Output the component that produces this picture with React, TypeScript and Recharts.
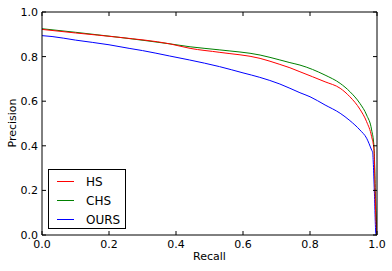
import React from 'react';
import { LineChart, Line, XAxis, YAxis, Legend } from 'recharts';

const oursRecall = [0, 0.03, 0.1, 0.2, 0.26, 0.3, 0.38, 0.44, 0.53, 0.6, 0.65, 0.71, 0.74, 0.77, 0.8, 0.845, 0.89, 0.919, 0.949, 0.969, 0.984, 0.987, 0.992, 0.997, 1.0];
const oursPrecision = [0.894, 0.89, 0.874, 0.853, 0.837, 0.827, 0.803, 0.785, 0.755, 0.727, 0.707, 0.677, 0.658, 0.638, 0.62, 0.583, 0.546, 0.513, 0.471, 0.434, 0.381, 0.37, 0.2, 0.0, 0.0];

const chsRecall = [0, 0.1, 0.233, 0.382, 0.442, 0.531, 0.651, 0.71, 0.74, 0.77, 0.845, 0.89, 0.919, 0.949, 0.969, 0.984, 0.991, 0.996, 1.0];
const chsPrecision = [0.925, 0.909, 0.886, 0.857, 0.844, 0.83, 0.807, 0.785, 0.773, 0.762, 0.717, 0.68, 0.643, 0.59, 0.538, 0.471, 0.396, 0.15, 0.0];

const hsRecall = [0, 0.1, 0.233, 0.382, 0.442, 0.531, 0.651, 0.71, 0.74, 0.77, 0.845, 0.89, 0.919, 0.949, 0.969, 0.984, 0.991, 0.996, 1.0];
const hsPrecision = [0.922, 0.906, 0.886, 0.857, 0.837, 0.819, 0.792, 0.765, 0.75, 0.732, 0.687, 0.658, 0.62, 0.564, 0.508, 0.441, 0.381, 0.1, 0.0];

const tickValues = [0, 0.2, 0.4, 0.6, 0.8, 1.0];

const seriesNames = ['HS', 'CHS', 'OURS'];
const seriesColors = ['#ff0000', '#008000', '#0000ff'];

const toData = (r: number[], p: number[]) => r.map((x, i) => ({ r: x, p: p[i] }));
const hsData = toData(hsRecall, hsPrecision);
const chsData = toData(chsRecall, chsPrecision);
const oursData = toData(oursRecall, oursPrecision);

const FONT = 'DejaVu Sans, sans-serif';
const TL = 4;

const BottomTick = (props: any) => {
  const { x, y, payload } = props;
  return (
    <g>
      <line x1={x} y1={y} x2={x} y2={y - TL} stroke="#000" strokeWidth={1} />
      <text x={x} y={y + 13} textAnchor="middle" fontSize={11} fontFamily={FONT} fill="#000">
        {Number(payload.value).toFixed(1)}
      </text>
    </g>
  );
};
const TopTick = (props: any) => {
  const { x, y } = props;
  return <line x1={x} y1={y} x2={x} y2={y + TL} stroke="#000" strokeWidth={1} />;
};
const LeftTick = (props: any) => {
  const { x, y, payload } = props;
  return (
    <g>
      <line x1={x} y1={y} x2={x + TL} y2={y} stroke="#000" strokeWidth={1} />
      <text x={x - 4} y={y + 4} textAnchor="end" fontSize={11} fontFamily={FONT} fill="#000">
        {Number(payload.value).toFixed(1)}
      </text>
    </g>
  );
};
const RightTick = (props: any) => {
  const { x, y } = props;
  return <line x1={x} y1={y} x2={x - TL} y2={y} stroke="#000" strokeWidth={1} />;
};

const LegendBox = () => (
  <div
    style={{
      width: 76,
      height: 58,
      border: '1px solid #000',
      background: '#fff',
      fontFamily: FONT,
      fontSize: 12,
      boxSizing: 'content-box',
      position: 'relative',
    }}
  >
    {seriesNames.map((n, i) => (
      <div key={n} style={{ position: 'absolute', left: 0, top: 3 + i * 19, height: 18, width: 76 }}>
        <div style={{ position: 'absolute', left: 8, top: 8, width: 17, height: 1, background: seriesColors[i] }} />
        <div style={{ position: 'absolute', left: 37, top: 1, lineHeight: '16px', color: '#000' }}>{n}</div>
      </div>
    ))}
  </div>
);

export default function App() {
  return (
    <div style={{ position: 'absolute', left: 0, top: 0, width: 392, height: 271, background: '#fff' }}>
      <LineChart width={392} height={271} margin={{ top: 0, right: 0, bottom: 0, left: 0 }}>
        <XAxis
          xAxisId="b"
          dataKey="r"
          type="number"
          domain={[0, 1]}
          ticks={tickValues}
          interval={0}
          height={36}
          tickSize={0}
          tickMargin={0}
          tickLine={false}
          tick={<BottomTick />}
          axisLine={{ stroke: '#000' }}
          allowDataOverflow
        />
        <XAxis
          xAxisId="t"
          orientation="top"
          dataKey="r"
          type="number"
          domain={[0, 1]}
          ticks={tickValues}
          interval={0}
          height={12}
          tickSize={0}
          tickMargin={0}
          tickLine={false}
          tick={<TopTick />}
          axisLine={{ stroke: '#000' }}
          allowDataOverflow
        />
        <YAxis
          yAxisId="l"
          type="number"
          domain={[0, 1]}
          ticks={tickValues}
          interval={0}
          width={42}
          tickSize={0}
          tickMargin={0}
          tickLine={false}
          tick={<LeftTick />}
          axisLine={{ stroke: '#000' }}
          allowDataOverflow
        />
        <YAxis
          yAxisId="r"
          orientation="right"
          type="number"
          domain={[0, 1]}
          ticks={tickValues}
          interval={0}
          width={15}
          tickSize={0}
          tickMargin={0}
          tickLine={false}
          tick={<RightTick />}
          axisLine={{ stroke: '#000' }}
          allowDataOverflow
        />
        <Line xAxisId="b" yAxisId="l" type="monotone" data={oursData} dataKey="p" name="OURS" stroke={seriesColors[2]} strokeWidth={1} dot={false} isAnimationActive={false} />
        <Line xAxisId="b" yAxisId="l" type="monotone" data={chsData} dataKey="p" name="CHS" stroke={seriesColors[1]} strokeWidth={1} dot={false} isAnimationActive={false} />
        <Line xAxisId="b" yAxisId="l" type="monotone" data={hsData} dataKey="p" name="HS" stroke={seriesColors[0]} strokeWidth={1} dot={false} isAnimationActive={false} />
        <Legend
          layout="vertical"
          align="center"
          verticalAlign="middle"
          wrapperStyle={{ position: 'absolute', left: 48, top: 169, width: 78, height: 60, margin: 0, padding: 0 }}
          content={() => <LegendBox />}
        />
      </LineChart>
      <div style={{ position: 'absolute', left: 0, top: 250, width: 419, textAlign: 'center', fontFamily: FONT, fontSize: 11, color: '#000' }}>
        Recall
      </div>
      <div
        style={{
          position: 'absolute',
          left: 12,
          top: 123,
          transform: 'translate(-50%, -50%) rotate(-90deg)',
          fontFamily: FONT,
          fontSize: 11,
          color: '#000',
          whiteSpace: 'nowrap',
        }}
      >
        Precision
      </div>
    </div>
  );
}
